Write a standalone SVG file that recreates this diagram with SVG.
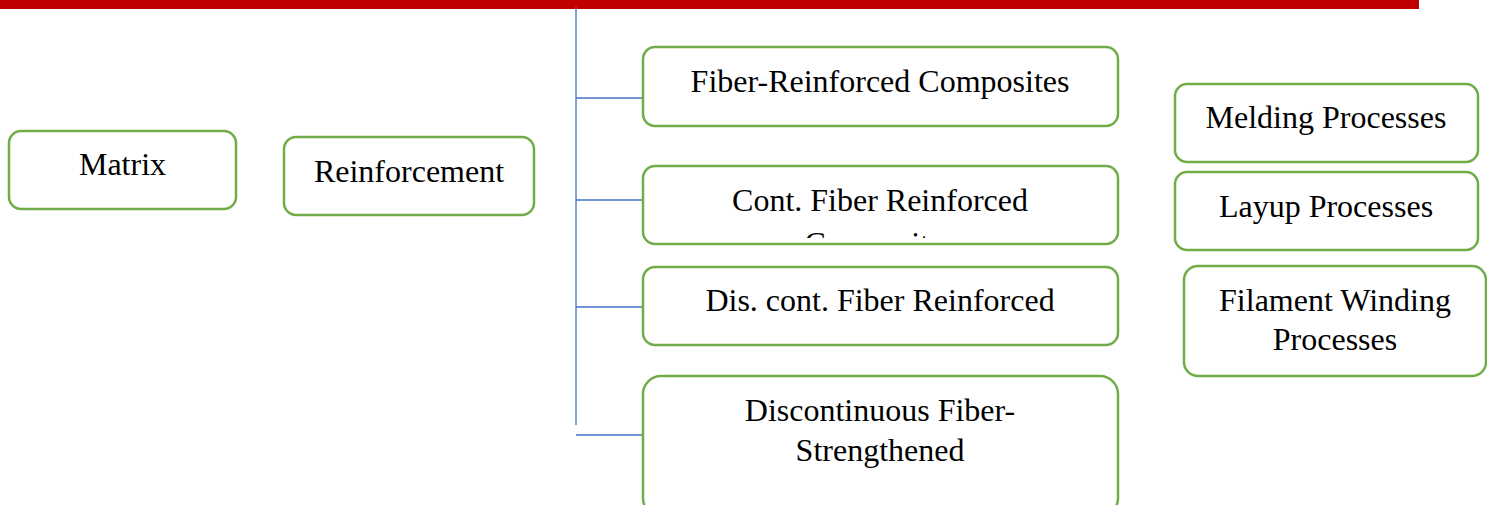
<svg xmlns="http://www.w3.org/2000/svg" width="1487" height="505" viewBox="0 0 1487 505">
<style>
.box{fill:#fff;stroke:#70AD47;stroke-width:2.5}
.t{font-family:"Liberation Serif","Times New Roman",serif;font-size:32px;fill:#000;text-anchor:middle}
.c{stroke:#4472C4;stroke-width:1.3;fill:none}
</style>
<defs>
<clipPath id="clipCont"><rect x="643" y="166" width="475" height="72"/></clipPath>
</defs>
<rect x="0" y="0" width="1419" height="9" fill="#C00000"/>
<g id="connectors">
<line class="c" x1="576" y1="7" x2="576" y2="425"/>
<line class="c" x1="576" y1="98" x2="643" y2="98"/>
<line class="c" x1="576" y1="200" x2="643" y2="200"/>
<line class="c" x1="576" y1="307" x2="643" y2="307"/>
<line class="c" x1="576" y1="435" x2="643" y2="435"/>
</g>
<g id="matrix"><rect class="box" x="9" y="131" width="227" height="78" rx="12"/><text class="t" x="122.5" y="175">Matrix</text></g>
<g id="reinforcement"><rect class="box" x="284" y="137" width="250" height="78" rx="12"/><text class="t" x="409" y="182">Reinforcement</text></g>
<g id="frc"><rect class="box" x="643" y="47" width="475" height="79" rx="12"/><text class="t" x="880" y="92">Fiber-Reinforced Composites</text></g>
<g id="cfrc"><rect class="box" x="643" y="166" width="475" height="78" rx="12"/><g clip-path="url(#clipCont)"><text class="t" x="880" y="211">Cont. Fiber Reinforced</text><text class="t" x="880" y="254">Composites</text></g></g>
<g id="dcfr"><rect class="box" x="643" y="267" width="475" height="78" rx="12"/><text class="t" x="880" y="311">Dis. cont. Fiber Reinforced</text></g>
<g id="dfs"><rect class="box" x="643" y="376" width="475" height="140" rx="18"/><text class="t" x="880" y="421">Discontinuous Fiber-</text><text class="t" x="880" y="461">Strengthened</text></g>
<g id="melding"><rect class="box" x="1175" y="84" width="303" height="78" rx="12"/><text class="t" x="1326" y="128">Melding Processes</text></g>
<g id="layup"><rect class="box" x="1175" y="172" width="303" height="78" rx="12"/><text class="t" x="1326" y="217">Layup Processes</text></g>
<g id="filament"><rect class="box" x="1184" y="266" width="302" height="110" rx="14"/><text class="t" x="1335" y="311">Filament Winding</text><text class="t" x="1335" y="350">Processes</text></g>
</svg>
